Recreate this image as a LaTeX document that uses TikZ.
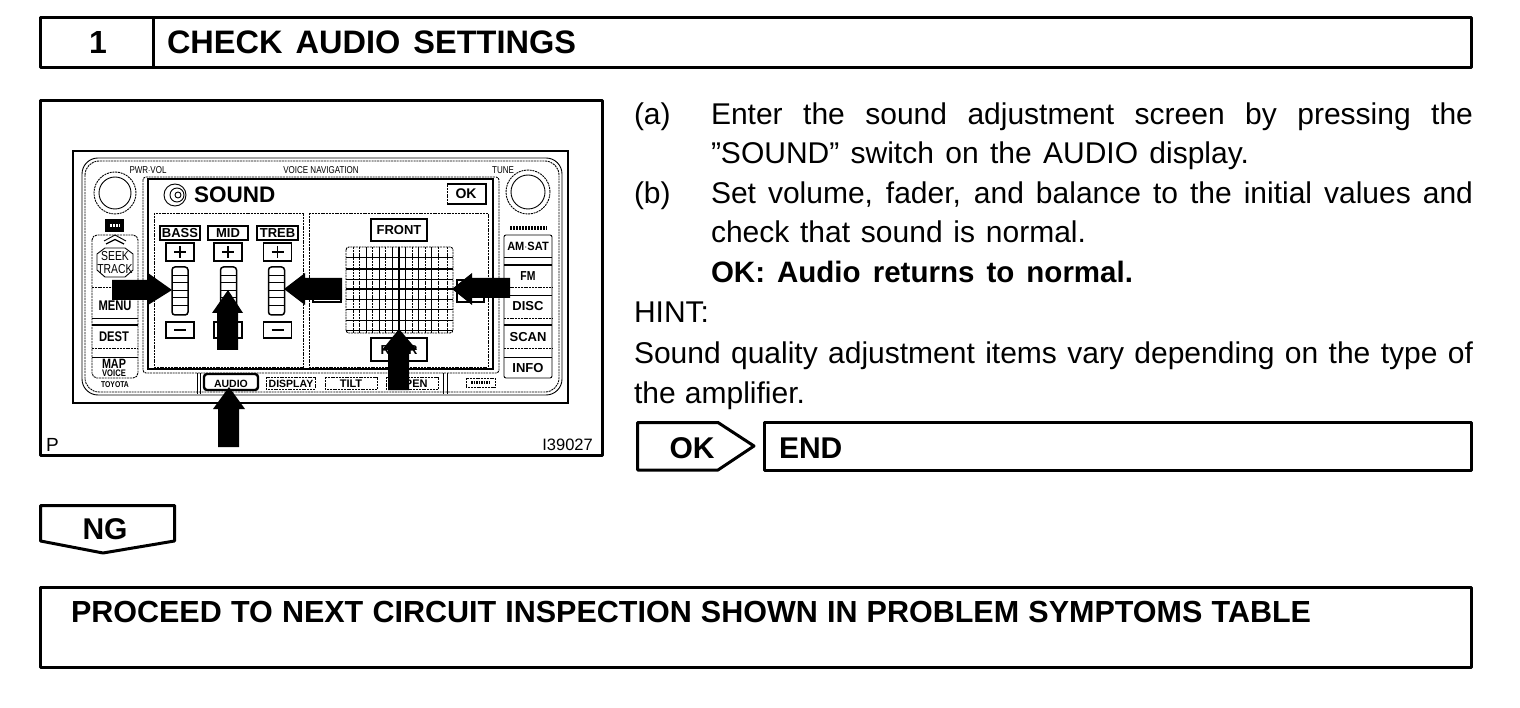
\documentclass[tikz,border=0pt]{standalone}
\usepackage{graphicx}
\usepackage{fontspec}
\setmainfont{Liberation Sans}
\newcommand{\fsz}[1]{\fontsize{#1}{#1}\selectfont}
\newcommand{\fitline}[2]{\makebox[#1pt][s]{#2}}
\newcommand{\cond}[1]{\scalebox{0.8}[1]{#1}}
\tikzset{
  x=1pt,y=-1pt,
  frame/.style={draw=black,line width=3pt,line join=round,outer sep=0pt,inner sep=0pt},
  txt/.style={anchor=base west,inner sep=0pt,outer sep=0pt,text=black},
  ctr/.style={anchor=base,inner sep=0pt,outer sep=0pt,text=black},
  lab/.style={ctr,font=\fsz{12}},
  body/.style={txt,font=\fsz{30}},
  bodyb/.style={txt,font=\fsz{29.5}\bfseries},
  head/.style={txt,font=\fsz{32.5}\bfseries},
  thin line/.style={draw=black,line width=0.9pt},
  mottled/.style={draw=black,line width=0.9pt,dash pattern=on 2pt off 0.8pt},
  btn/.style={draw=black,line width=1.1pt,fill=white,outer sep=0pt},
  pointer/.style={fill=black,draw=none},
}
\begin{document}
\begin{tikzpicture}
\useasboundingbox[fill=white] (0,0) rectangle (1520,708);

% header
\node[frame,minimum width=1430.5pt,minimum height=50pt,anchor=north west] (header) at (40.5,17.5) {};
\draw[frame] (153,17.5) -- (153,67.5);
\node[ctr,font=\fsz{32}\bfseries] (stepno) at (98,54) {1};
\node[head] (steptitle) at (167,54) {\fitline{409}{CHECK AUDIO SETTINGS}};

% illustration frame
\node[frame,minimum width=561.5pt,minimum height=354.5pt,anchor=north west] (figure) at (40.5,100.5) {};
\node[txt,font=\fsz{19}] (pmark) at (46,451.5) {P};
\node[anchor=base east,inner sep=0pt,font=\fsz{16.5}] (figno) at (593,450) {I39027};

% head unit
\draw[thin line,line width=1.2pt] (73,151) rectangle (568,403);
\draw[thin line,rounded corners=16pt] (82,158) rectangle (562,395);
\draw[mottled,rounded corners=14pt] (85,161) rectangle (559,392);
\node[lab,font=\fsz{10}] (pwr) at (148,174) {\cond{PWR$\cdot$VOL}};
\node[lab,font=\fsz{10}] (vnav) at (321,174) {\cond{VOICE NAVIGATION}};
\node[lab,font=\fsz{10}] (tune) at (503,174) {\cond{TUNE}};

% knobs
\draw[mottled] (115,193) circle [radius=21pt];
\draw[thin line] (115,193) circle [radius=16pt];
\draw[mottled] (528,192) circle [radius=22pt];
\draw[thin line] (528,192) circle [radius=17pt];
\fill[black] (105,219) rectangle (124,232);
\draw[white,line width=3pt,dash pattern=on 2pt off 1pt] (110,225.5) -- (120,225.5);
\draw[black,line width=3.2pt,dash pattern=on 2pt off 1pt] (510,228) -- (547,228);

% left button column
\draw[mottled,rounded corners=5pt] (92,235) rectangle (138,378);
\draw[thin line] (104,241) -- (115,235) -- (126,241);
\draw[thin line,line width=1.2pt] (106,244) -- (115,239.5) -- (124,244);
\draw[thin line] (105,248) -- (125,248) -- (133,254) -- (133,270) -- (125,277) -- (105,277) -- (97,270) -- (97,254) -- cycle;
\node[lab,font=\fsz{13}] (seek) at (115,261) {\cond{SEEK}};
\node[lab,font=\fsz{13}] (track) at (115,274) {\cond{TRACK}};
\draw[mottled] (92,287) -- (138,287);
\draw[thin line] (92,318) -- (138,318);
\draw[thin line,line width=1.3pt] (92,325) -- (138,325);
\draw[mottled] (92,348) -- (138,348);
\draw[thin line] (92,357) -- (138,357);
\node[lab,font=\fsz{14}\bfseries] (menu) at (115,311) {\cond{MENU}};
\node[lab,font=\fsz{14}\bfseries] (dest) at (114,342) {\cond{DEST}};
\node[lab,font=\fsz{13.5}\bfseries] (map) at (114,368) {\cond{MAP}};
\node[lab,font=\fsz{9.5}\bfseries] (voice) at (114,376) {\cond{VOICE}};
\node[lab,font=\fsz{8.5}\bfseries] (toyota) at (115,387) {\cond{TOYOTA}};

% right button column
\draw[thin line,rounded corners=2pt] (504,235) rectangle (552,378);
\draw[thin line] (504,257) -- (552,257);
\draw[thin line,line width=1.3pt] (504,265) -- (552,265);
\draw[mottled] (504,287) -- (552,287);
\draw[thin line] (504,295) -- (552,295);
\draw[mottled] (504,318) -- (552,318);
\draw[thin line,line width=1.3pt] (504,325) -- (552,325);
\draw[mottled] (504,348) -- (552,348);
\draw[thin line] (504,357) -- (552,357);
\node[lab,font=\fsz{12}\bfseries] (amsat) at (528,251) {\scalebox{0.92}[1]{AM$\cdot$SAT}};
\node[lab,font=\fsz{13}\bfseries] (fm) at (528,281) {\cond{FM}};
\node[lab,font=\fsz{13}\bfseries] (disc) at (528,311) {DISC};
\node[lab,font=\fsz{13}\bfseries] (scan) at (528,342) {SCAN};
\node[lab,font=\fsz{13}\bfseries] (info) at (528,372) {INFO};

% screen
\draw[mottled,rounded corners=3pt] (143,177) rectangle (499,373);
\draw[thin line,line width=1.6pt] (148,179) rectangle (493,369);
\draw[thin line] (175,195) circle [radius=11pt];
\draw[thin line] (177,195) circle [radius=7pt];
\draw[thin line] (178,195) circle [radius=3pt];
\node[txt,font=\fsz{22.5}\bfseries] (sound) at (194,203) {SOUND};
\draw[mottled,line width=1pt] (447,204) -- (447,184);
\draw[thin line,line width=1.4pt] (447,184) -- (486,184) -- (486,204) -- (447,204);
\node[lab,font=\fsz{14}\bfseries] (okscr) at (466,199) {OK};
\draw[mottled] (154,213) rectangle (303,367);
\draw[mottled] (309,213) rectangle (488,367);

% tone columns
\foreach \nm/\cx/\sl/\lb/\rb in {BASS/180/180/160/200,MID/228/228.5/208/248,TREB/277.5/276.5/257/298}{
  \draw[btn] (\lb,226) rectangle (\rb,240);
  \node[lab,font=\fsz{13}\bfseries] at (\cx,238) {\nm};
  \draw[btn] (\cx-14,243) rectangle (\cx+14,261);
  \draw[line width=1.5pt] (\cx-6,252) -- (\cx+6,252) (\cx,246) -- (\cx,258);
  \draw[thin line,line width=1.5pt,rounded corners=3pt] (\sl-8,267) rectangle (\sl+8,315);
  \foreach \yy in {275,282,290,297,305}{\draw[thin line] (\sl-8,\yy) -- (\sl+8,\yy);}
  \draw[btn] (\cx-14,322) rectangle (\cx+14,338);
  \draw[line width=1.5pt] (\cx-6,330) -- (\cx+6,330);
}

% balance pad
\node[btn,minimum width=56pt,minimum height=22pt,anchor=north west,inner sep=0pt] (frontbox) at (371,219) {};
\node[lab,font=\fsz{13}\bfseries] (front) at (399,235) {FRONT};
\node[btn,minimum width=56pt,minimum height=23pt,anchor=north west,inner sep=0pt] (rearbox) at (371,338) {};
\node[lab,font=\fsz{13}\bfseries] (rear) at (399,355) {REAR};
\draw[btn] (313,280) rectangle (341,302);
\draw[btn] (457,280) rectangle (484,302);
\draw[mottled,rounded corners=3pt] (346,247) rectangle (453,333);
\foreach \gx in {353,359,372,385,412,425,438,447}{\draw[mottled] (\gx,247) -- (\gx,333);}
\foreach \gy in {257,279,299,309,320,330}{\draw[thin line] (346,\gy) -- (453,\gy);}
\foreach \gx in {366,379,392,405,418,431}{\draw[thin line] (\gx,247) -- (\gx,333);}
\draw[line width=2pt] (346,269) -- (453,269);
\draw[line width=2.6pt] (346,289) -- (453,289);
\draw[line width=2.2pt] (399,247) -- (399,333);

% tab strip
\draw[thin line] (197,373) -- (197,394) (200,373) -- (200,394) (443,373) -- (443,394) (447,373) -- (447,394);
\draw[black,line width=2.4pt,rounded corners=3pt] (204,374) rectangle (258,390);
\node[lab,font=\fsz{10.5}\bfseries] (audio) at (231,387) {AUDIO};
\draw[mottled] (266,377) rectangle (315,389);
\node[lab,font=\fsz{10.5}\bfseries] (display) at (291,387) {DISPLAY};
\draw[mottled] (325,377) rectangle (377,389);
\node[lab,font=\fsz{11}\bfseries] (tilt) at (351,387) {TILT};
\draw[mottled] (386,377) rectangle (438,389);
\node[lab,font=\fsz{11}\bfseries] (open) at (412,387) {OPEN};
\draw[mottled] (466,378) rectangle (495,387);
\draw[black,line width=2.5pt,dash pattern=on 1.5pt off 1pt] (471,382.5) -- (490,382.5);

% pointers
\fill[pointer] (172,290) -- (148,273) -- (148,280) -- (112,280) -- (112,300) -- (148,300) -- (148,305) -- cycle;
\fill[pointer] (228,290) -- (212,313) -- (217,313) -- (217,350) -- (238,350) -- (238,313) -- (243,313) -- cycle;
\fill[pointer] (229,387) -- (213,409) -- (218,409) -- (218,447) -- (239,447) -- (239,409) -- (245,409) -- cycle;
\fill[pointer] (284,289) -- (305,273) -- (305,278) -- (342,278) -- (342,300) -- (305,300) -- (305,305) -- cycle;
\fill[pointer] (452,289) -- (472,273) -- (472,278) -- (510,278) -- (510,298) -- (472,298) -- (472,305) -- cycle;
\fill[pointer] (399,329) -- (382,350) -- (388,350) -- (388,390) -- (409,390) -- (409,350) -- (417,350) -- cycle;

% instructions
\node[body] (a) at (634,125) {(a)};
\node[body] (a1) at (711,125) {\fitline{762}{Enter the sound adjustment screen by pressing the}};
\node[body] (a2) at (711,164) {\fitline{538}{”SOUND” switch on the AUDIO display.}};
\node[body] (b) at (634,204) {(b)};
\node[body] (b1) at (711,204) {\fitline{762}{Set volume, fader, and balance to the initial values and}};
\node[body] (b2) at (711,243) {\fitline{375}{check that sound is normal.}};
\node[bodyb] (b3) at (711,283) {\fitline{422}{OK: Audio returns to normal.}};
\node[body] (hint) at (634,323) {HINT:};
\node[body] (h1) at (634,363) {\fitline{839}{Sound quality adjustment items vary depending on the type of}};
\node[body] (h2) at (634,403) {\fitline{171}{the amplifier.}};

% OK / END
\draw[frame] (637.5,422.5) -- (718,422.5) -- (754,446) -- (718,470) -- (637.5,470) -- cycle;
\node[ctr,font=\fsz{30}\bfseries] (ok) at (692,458) {OK};
\node[frame,minimum width=707.5pt,minimum height=47.5pt,anchor=north west] (endbox) at (764,422.5) {};
\node[txt,font=\fsz{30}\bfseries] (endtxt) at (779,458) {END};

% NG
\draw[frame] (40.5,505.5) -- (174.5,505.5) -- (174.5,541) -- (103,553) -- (40.5,541) -- cycle;
\node[ctr,font=\fsz{30}\bfseries] (ng) at (105,539) {NG};

% next step
\node[frame,minimum width=1430.5pt,minimum height=80pt,anchor=north west] (nextbox) at (40.5,587.5) {};
\node[txt,font=\fsz{30.5}\bfseries] (nexttxt) at (71,622) {\fitline{1240}{PROCEED TO NEXT CIRCUIT INSPECTION SHOWN IN PROBLEM SYMPTOMS TABLE}};
\end{tikzpicture}
\end{document}
